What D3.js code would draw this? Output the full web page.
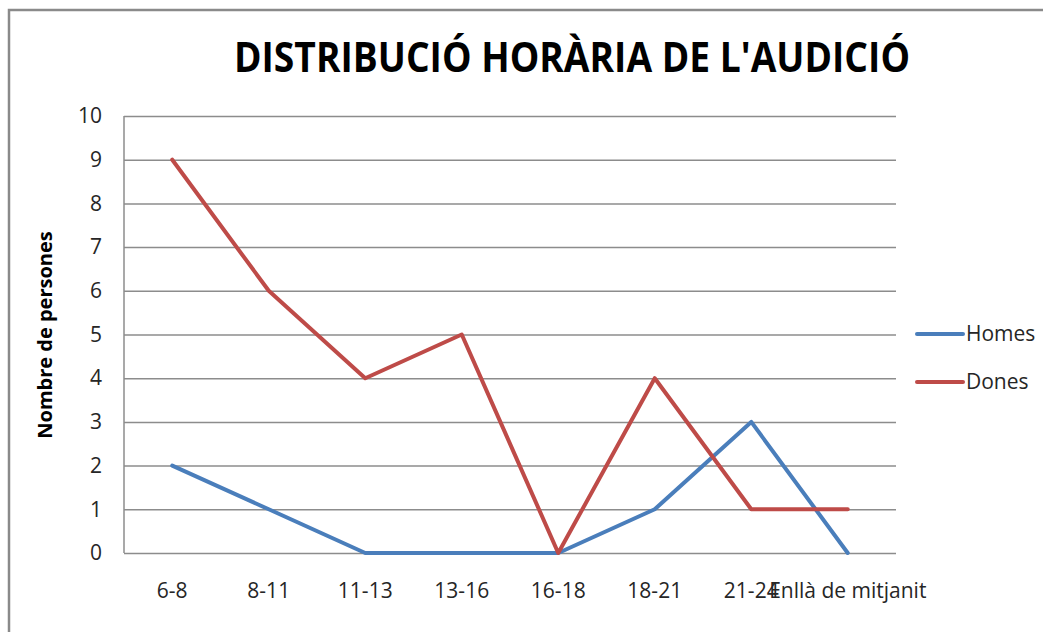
<!DOCTYPE html>
<html>
<head>
<meta charset="utf-8">
<script src="https://cdn.jsdelivr.net/npm/d3@7"></script>
<style>
  body { margin: 0; background: #fff; }
  text { font-family: "Open Sans", "Noto Sans", sans-serif; }
</style>
</head>
<body>
<div id="chart"></div>
<script>
const categories = ["6-8", "8-11", "11-13", "13-16", "16-18", "18-21", "21-24", "Enllà de mitjanit"];
const homes = [2, 1, 0, 0, 0, 1, 3, 0];
const dones = [9, 6, 4, 5, 0, 4, 1, 1];
const yTicks = [0, 1, 2, 3, 4, 5, 6, 7, 8, 9, 10];

const series = [
  { name: "Homes", values: homes, color: "#4a7ebb" },
  { name: "Dones", values: dones, color: "#be4b48" }
];

let w = 1043;
let h = 632;
let marginLeft = 124;
let marginRight = 147;
let marginTop = 116;
let marginBottom = 79;
let labelSize = 21;

let svg = d3
  .select("#chart")
  .append("svg")
  .attr("width", w)
  .attr("height", h);

// chart frame (only top and left edges show)
svg
  .append("path")
  .attr("d", `M9,${h} V10 H${w}`)
  .attr("fill", "none")
  .attr("stroke", "#8a8a8a")
  .attr("stroke-width", 2.5);

let x = d3
  .scaleBand()
  .domain(categories)
  .range([marginLeft, w - marginRight]);

let y = d3
  .scaleLinear()
  .domain([0, 10])
  .range([h - marginBottom, marginTop]);

// title
svg
  .append("text")
  .attr("x", 572)
  .attr("y", 72)
  .attr("text-anchor", "middle")
  .attr("font-size", 42)
  .attr("font-weight", "bold")
  .attr("textLength", 676)
  .attr("lengthAdjust", "spacingAndGlyphs")
  .attr("fill", "#000")
  .text("DISTRIBUCIÓ HORÀRIA DE L'AUDICIÓ");

// y axis with gridlines
let yAxis = svg
  .append("g")
  .attr("transform", `translate(${marginLeft},0)`)
  .call(
    d3.axisLeft(y)
      .tickValues(yTicks)
      .tickSize(-(w - marginLeft - marginRight))
      .tickPadding(22)
  );
yAxis.select(".domain").remove();
yAxis.selectAll(".tick line").attr("stroke", "#8c8c8c").attr("stroke-width", 1.5);
yAxis
  .selectAll(".tick text")
  .attr("font-size", labelSize)
  .attr("fill", "#262626")
  .attr("font-family", "Open Sans, sans-serif");

// left axis line
svg
  .append("line")
  .attr("x1", marginLeft)
  .attr("x2", marginLeft)
  .attr("y1", y(10))
  .attr("y2", y(0))
  .attr("stroke", "#8c8c8c")
  .attr("stroke-width", 1.5);

// x axis labels
let xAxis = svg
  .append("g")
  .attr("transform", `translate(0,${y(0)})`)
  .call(d3.axisBottom(x).tickSize(0).tickPadding(30));
xAxis.select(".domain").remove();
xAxis
  .selectAll(".tick text")
  .attr("font-size", labelSize)
  .attr("fill", "#262626")
  .attr("font-family", "Open Sans, sans-serif");

// y axis title
svg
  .append("text")
  .attr("transform", `translate(52,335) rotate(-90)`)
  .attr("text-anchor", "middle")
  .attr("font-size", 20)
  .attr("font-weight", "bold")
  .attr("fill", "#000")
  .text("Nombre de persones");

let line = d3
  .line()
  .x(function (d, i) {
    return x(categories[i]) + x.bandwidth() / 2;
  })
  .y(function (d) {
    return y(d);
  });

svg
  .append("g")
  .selectAll("path")
  .data(series)
  .enter()
  .append("path")
  .attr("d", function (d) {
    return line(d.values);
  })
  .attr("fill", "none")
  .attr("stroke", function (d) {
    return d.color;
  })
  .attr("stroke-width", 4)
  .attr("stroke-linejoin", "round")
  .attr("stroke-linecap", "round");

// legend
let legend = svg
  .append("g")
  .selectAll("g")
  .data(series)
  .enter()
  .append("g")
  .attr("transform", function (d, i) {
    return `translate(917,${334 + i * 48})`;
  });

legend
  .append("line")
  .attr("x1", 0)
  .attr("x2", 46)
  .attr("stroke", function (d) {
    return d.color;
  })
  .attr("stroke-width", 4)
  .attr("stroke-linecap", "round");

legend
  .append("text")
  .attr("x", 49)
  .attr("dy", "0.35em")
  .attr("font-size", labelSize)
  .attr("fill", "#262626")
  .text(function (d) {
    return d.name;
  });
</script>
</body>
</html>
